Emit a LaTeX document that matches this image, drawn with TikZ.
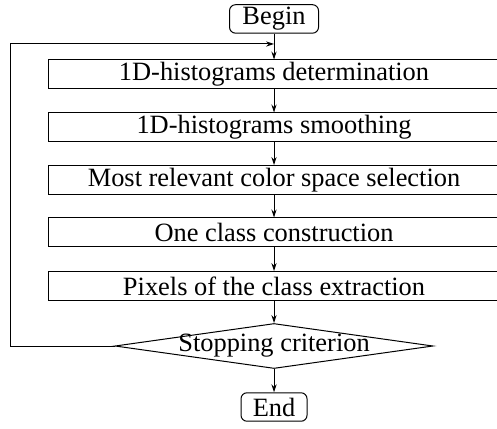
\documentclass[tikz,border=0pt]{standalone}
\usepackage{fontspec}
\setmainfont{Liberation Serif}
\usetikzlibrary{arrows.meta,positioning,shapes.geometric}

\begin{document}
\begin{tikzpicture}[font=\fontsize{13.2}{15}\selectfont,line width=0.5pt,
  stepbox/.style={draw,minimum width=7.943cm,minimum height=0.51cm,inner sep=1pt},
  terminal/.style={draw,rounded corners=3pt,minimum height=0.5cm,inner sep=1pt},
  decision/.style={draw,diamond,minimum width=5.588cm,minimum height=0.791cm,inner sep=0pt},
  flow/.style={-{Stealth[length=4pt,width=2.6pt]}}]
\clip (0,0) rectangle (8.733,7.521);
\node[terminal,minimum width=1.564cm] (begin) at (4.815,7.188) {Begin};
\node[stepbox] (hist) at (4.815,6.212) {1D-histograms determination};
\node[stepbox] (smooth) at (4.815,5.281) {1D-histograms smoothing};
\node[stepbox] (space) at (4.815,4.358) {Most relevant color space selection};
\node[stepbox] (class) at (4.815,3.436) {One class construction};
\node[stepbox] (pixels) at (4.815,2.495) {Pixels of the class extraction};
\node[decision,label=center:Stopping criterion] (stop) at (4.815,1.441) {};
\node[terminal,minimum width=1.16cm] (end) at (4.815,0.369) {End};
\coordinate (join) at (4.815,6.748);
\coordinate (back) at (0.176,1.441);
\draw[flow] (begin) -- (hist);
\draw[flow] (hist) -- (smooth);
\draw[flow] (smooth) -- (space);
\draw[flow] (space) -- (class);
\draw[flow] (class) -- (pixels);
\draw[flow] (pixels) -- (stop);
\draw[flow] (stop) -- (end);
\draw[flow] (stop.west) -- (back) |- (join);
\end{tikzpicture}
\end{document}
